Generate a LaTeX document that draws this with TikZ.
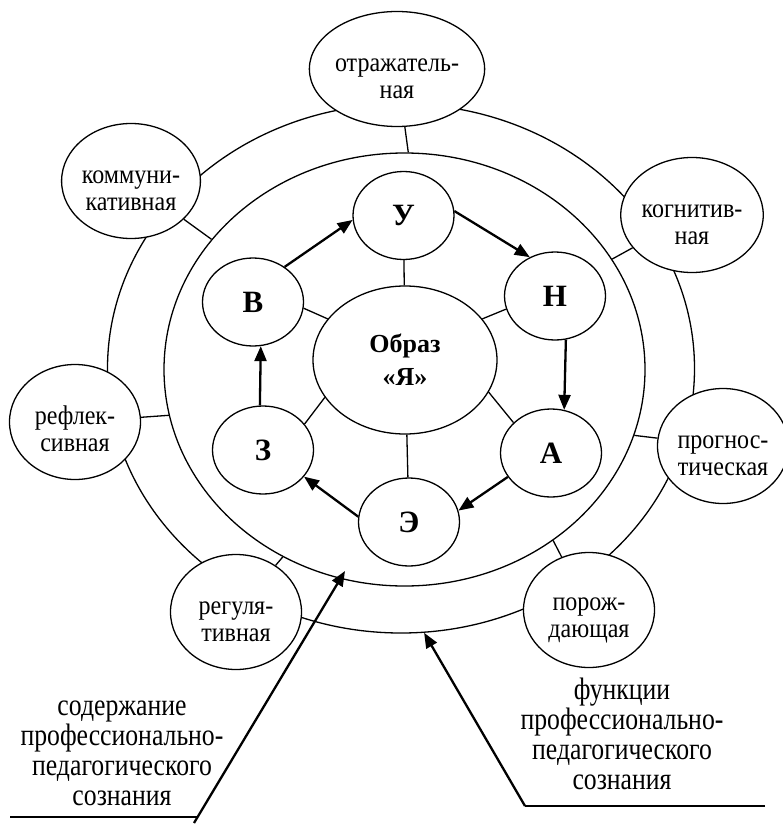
\documentclass[tikz,border=0pt]{standalone}
\usepackage{fontspec}
\setmainfont{Liberation Serif}[FakeStretch=0.83]
\newfontfamily\lettersfont{Liberation Serif}
\newfontfamily\namefont{Liberation Serif}[FakeStretch=0.89]
\usetikzlibrary{arrows.meta,shapes.geometric}
\tikzset{
  >={Triangle[length=15pt,width=12pt]},
  ring/.style={draw, ellipse, line width=1.3pt, inner sep=0pt},
  func/.style={draw, ellipse, fill=white, line width=1.3pt, inner sep=0pt,
              minimum width=131pt, minimum height=115pt, align=center,
              font=\namefont\fontsize{27}{27}\selectfont},
  comp/.style={draw, ellipse, fill=white, line width=1.3pt, inner sep=0pt,
              minimum width=101pt, minimum height=88pt,
              font=\lettersfont\fontsize{31}{32}\selectfont\bfseries},
  self/.style={draw, ellipse, fill=white, line width=1.3pt, inner sep=0pt,
              minimum width=184pt, minimum height=148pt, align=center,
              font=\lettersfont\fontsize{26}{33}\selectfont\bfseries},
  link/.style={line width=1.3pt},
  flowarr/.style={->, line width=2.3pt},
  caption/.style={align=center, font=\fontsize{31}{30}\selectfont},
}
% lowers the two-line names inside their ellipses
\newcommand{\lowtop}{\rule{0pt}{33pt}}

\begin{document}
\begin{tikzpicture}[x=1pt,y=-1pt]
  \useasboundingbox (0,0) rectangle (783,824);
  % two rings
  \node[ring,minimum width=587pt,minimum height=529pt] (outer) at (401,368.5) {};
  \node[ring,minimum width=481pt,minimum height=433pt] (inner) at (404.5,369.5) {};
  % functions
  \foreach \n/\x/\y/\t in {otr/397/69/{отражатель-\\ная},
                           komm/131/181/{коммуни-\\кативная},
                           kogn/692/215/{когнитив-\\ная},
                           refl/75/422/{рефлек-\\сивная},
                           progn/723/446/{прогнос-\\тическая},
                           regul/236/612/{регуля-\\тивная},
                           poroz/589/610/{порож-\\дающая}}{
    \node[func] (\n) at (\x,\y) {\lowtop\t};}
  \foreach \n/\a in {otr/89,komm/146.8,kogn/28.6,refl/191.6,progn/-16.8,
                     regul/237.8,poroz/-49.6}{
    \draw[link] (\n) -- (inner.\a);}
  % content
  \node[self] (obraz) at (405,360) {Образ\\«Я»};
  \node[comp] (u) at (403.5,215.5) {У};
  \node[comp] (n) at (555,296) {Н};
  \node[comp] (a) at (551,453) {А};
  \node[comp] (e) at (409,522) {Э};
  \node[comp] (z) at (263,450) {З};
  \node[comp] (v) at (253,302) {В};
  \draw[link] (u) -- (obraz);
  \draw[link] (v.-7) -- (obraz.152);
  \draw[link] (n.195) -- (obraz.28);
  \draw[link] (z.32) -- (obraz.205);
  \draw[link] (a.141) -- (obraz.-21);
  \draw[link] (e) -- (obraz);
  \draw[flowarr] (v.48) -- (u.185);
  \draw[flowarr] (u.5) -- (n.123);
  \draw[flowarr] (n.-76) -- (a.73);
  \draw[flowarr] (a.209.6) -- (e.13);
  \draw[flowarr] (e.174) -- (z.-33);
  \draw[flowarr] (z.94) -- (v.-80);
  % pointers
  \coordinate (lstart) at (10,817);
  \coordinate (lknee) at (197,817);
  \coordinate (lfoot) at (194,823);
  \coordinate (ltip) at (345,571);
  \coordinate (rend) at (765,806);
  \coordinate (rknee) at (525,806);
  \draw[link] (lstart) -- (lknee);
  \draw[flowarr] (lfoot) -- (ltip);
  \draw[link] (rend) -- (rknee);
  \draw[flowarr] (rknee) -- (outer.-85);
  \node[caption] (cont) at (122,753)
    {содержание\\профессионально-\\педагогического\\сознания};
  \node[caption] (funct) at (622,734)
    {функции\\профессионально-\\педагогического\\сознания};
\end{tikzpicture}
\end{document}
